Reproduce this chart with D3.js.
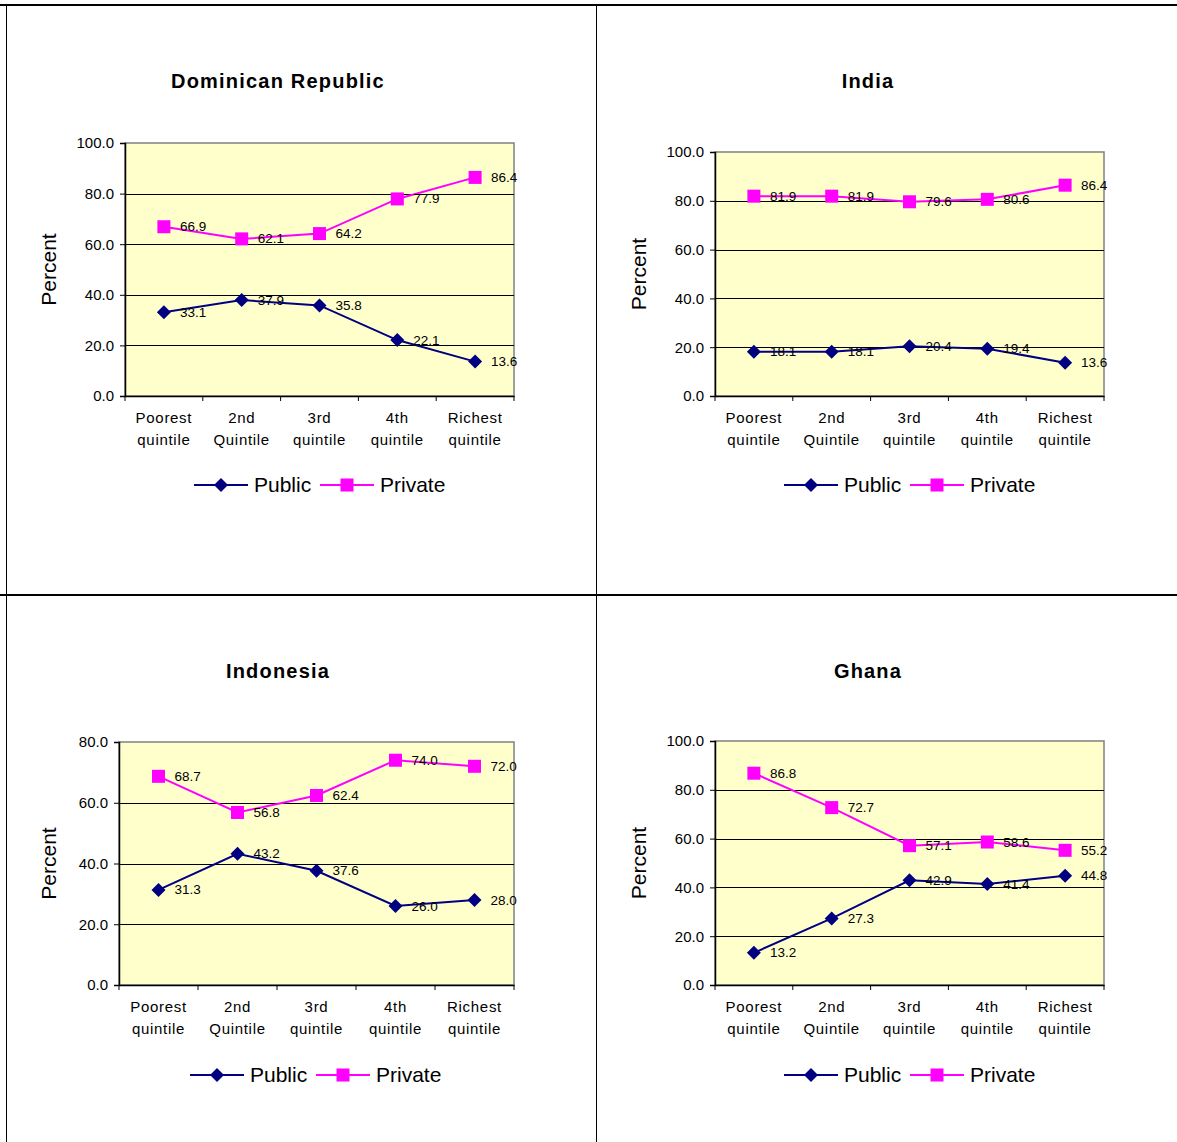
<!DOCTYPE html>
<html><head><meta charset="utf-8">
<script src="https://cdn.jsdelivr.net/npm/d3@7"></script>
<style>body{margin:0;background:#fff}svg{display:block}text{font-family:"Liberation Sans",Arial,sans-serif}</style>
</head><body>
<script>
const categories = [["Poorest","quintile"],["2nd","Quintile"],["3rd","quintile"],["4th","quintile"],["Richest","quintile"]];
const countries = ["Dominican Republic","India","Indonesia","Ghana"];
const publicValues = [
  [33.1,37.9,35.8,22.1,13.6],
  [18.1,18.1,20.4,19.4,13.6],
  [31.3,43.2,37.6,26.0,28.0],
  [13.2,27.3,42.9,41.4,44.8]
];
const privateValues = [
  [66.9,62.1,64.2,77.9,86.4],
  [81.9,81.9,79.6,80.6,86.4],
  [68.7,56.8,62.4,74.0,72.0],
  [86.8,72.7,57.1,58.6,55.2]
];
const yMaxValues = [100,100,80,100];
const seriesNames = ["Public","Private"];
const yLabel = "Percent";

const W=1177,H=1142;
const svg=d3.select("body").append("svg").attr("width",W).attr("height",H);

// table borders
svg.append("line").attr("x1",0).attr("x2",W).attr("y1",5).attr("y2",5).attr("stroke","#000").attr("stroke-width",2);
svg.append("line").attr("x1",0).attr("x2",W).attr("y1",595).attr("y2",595).attr("stroke","#000").attr("stroke-width",2);
svg.append("line").attr("x1",6.5).attr("x2",6.5).attr("y1",5).attr("y2",H).attr("stroke","#000").attr("stroke-width",1);
svg.append("line").attr("x1",596.5).attr("x2",596.5).attr("y1",5).attr("y2",H).attr("stroke","#000").attr("stroke-width",1);

const layout=[
  {l:125,r:514,t:143,b:396,tx:278,ty:88,px:48,legY:485,legX:194},
  {l:715,r:1104,t:152,b:396,tx:868,ty:88,px:638,legY:485,legX:784},
  {l:119,r:514,t:742,b:985,tx:278,ty:678,px:48,legY:1075,legX:190},
  {l:715,r:1104,t:741,b:985,tx:868,ty:678,px:638,legY:1075,legX:784}
];
const colors=["#000080","#FF00FF"];

function marker(g,type,x,y,c){
  if(type===0){
    g.append("path").attr("d",`M${x},${y-7}L${x+7},${y}L${x},${y+7}L${x-7},${y}Z`).attr("fill",c);
  } else {
    g.append("rect").attr("x",x-6.5).attr("y",y-6.5).attr("width",13).attr("height",13).attr("fill",c);
  }
}

countries.forEach((name,i)=>{
  const L=layout[i];
  const g=svg.append("g");
  const x=d3.scaleBand().domain(d3.range(categories.length)).range([L.l,L.r]);
  const y=d3.scaleLinear().domain([0,yMaxValues[i]]).range([L.b,L.t]);
  g.append("rect").attr("x",L.l).attr("y",L.t).attr("width",L.r-L.l).attr("height",L.b-L.t).attr("fill","#FFFFCC").attr("stroke","#808080").attr("stroke-width",1.5);
  const ticks=d3.range(0,yMaxValues[i]+0.1,20);
  g.selectAll(".grid").data(ticks.filter(t=>t>0&&t<yMaxValues[i])).join("line")
    .attr("x1",L.l).attr("x2",L.r).attr("y1",d=>Math.round(y(d))+0.5).attr("y2",d=>Math.round(y(d))+0.5).attr("stroke","#000").attr("stroke-width",1);
  const ya=g.append("g").attr("transform",`translate(${L.l},0)`)
    .call(d3.axisLeft(y).tickValues(ticks).tickFormat(d3.format(".1f")).tickSize(5).tickPadding(6));
  ya.select(".domain").attr("stroke","#000").attr("stroke-width",1.5);
  ya.selectAll(".tick line").attr("stroke","#000");
  ya.selectAll("text").attr("font-size",15).attr("fill","#000").attr("font-family","Liberation Sans, Arial, sans-serif");
  const xa=g.append("g").attr("transform",`translate(0,${L.b})`)
    .call(d3.axisBottom(x).tickValues([]).tickSize(0));
  xa.select(".domain").attr("stroke","#000").attr("stroke-width",1.5);
  const bw=x.bandwidth();
  g.selectAll(".xt").data(d3.range(categories.length+1)).join("line")
    .attr("x1",d=>L.l+d*bw).attr("x2",d=>L.l+d*bw).attr("y1",L.b).attr("y2",L.b+5).attr("stroke","#000");
  categories.forEach((c,k)=>{
    const t=g.append("text").attr("x",x(k)+bw/2).attr("y",L.b+27).attr("text-anchor","middle").attr("font-size",15).attr("letter-spacing",0.7);
    c.forEach((ln,j)=>t.append("tspan").attr("x",x(k)+bw/2).attr("dy",j===0?0:22).text(ln));
  });
  g.append("text").attr("x",L.tx).attr("y",L.ty).attr("text-anchor","middle").attr("font-size",20).attr("font-weight","bold").attr("letter-spacing",1.2).text(name);
  g.append("text").attr("transform",`translate(${L.px+8},${(L.t+L.b)/2}) rotate(-90)`).attr("text-anchor","middle").attr("font-size",21).text(yLabel);
  [publicValues[i],privateValues[i]].forEach((vals,s)=>{
    const line=d3.line().x((d,k)=>x(k)+bw/2).y(d=>y(d));
    g.append("path").datum(vals).attr("d",line).attr("fill","none").attr("stroke",colors[s]).attr("stroke-width",2);
    vals.forEach((v,k)=>marker(g,s,x(k)+bw/2,y(v),colors[s]));
    vals.forEach((v,k)=>{
      g.append("text").attr("x",x(k)+bw/2+16).attr("y",y(v)+1).attr("dominant-baseline","middle").attr("font-size",13.5).attr("fill","#000").text(d3.format(".1f")(v));
    });
  });
  let lx=L.legX;
  seriesNames.forEach((nm,s)=>{
    g.append("line").attr("x1",lx).attr("x2",lx+54).attr("y1",L.legY).attr("y2",L.legY).attr("stroke",colors[s]).attr("stroke-width",2);
    marker(g,s,lx+27,L.legY,colors[s]);
    g.append("text").attr("x",lx+60).attr("y",L.legY+7).attr("font-size",21).text(nm);
    lx+=126;
  });
});
</script>
</body></html>
